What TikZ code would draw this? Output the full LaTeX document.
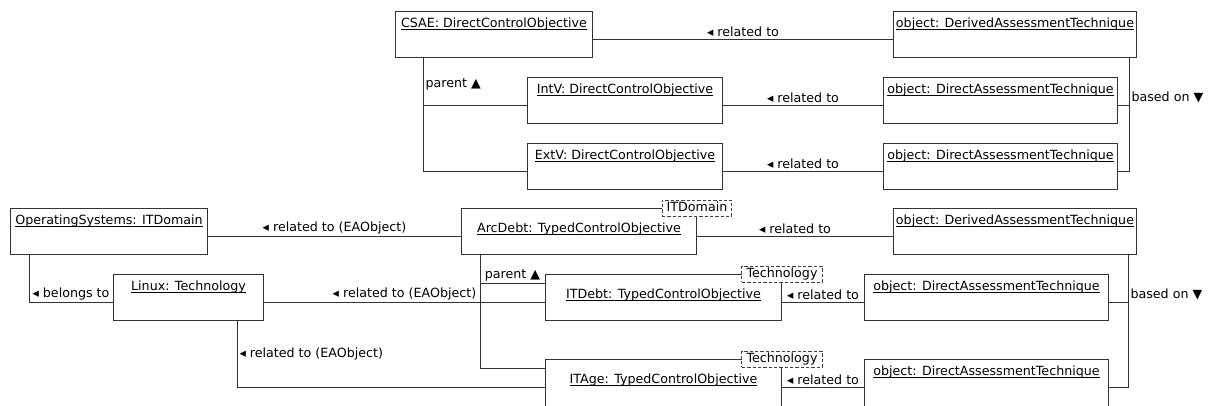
\documentclass[tikz,border=0pt]{standalone}
\usepackage{fontspec}
\setmainfont{DejaVu Sans}
\newcommand\uname[1]{\underline{\smash{#1}}}
\tikzset{
  obj/.style={draw=black!80, line width=0.75pt, anchor=north west, inner sep=0pt,
    minimum width=#1*0.75pt, text height=12pt, text depth=22.5pt},
  typed/.style={obj=#1, text height=18pt, text depth=16.5pt},
  tag/.style={draw=black!75, line width=0.75pt, dash pattern=on 2.5pt off 1.5pt,
    fill=white, inner xsep=3.5pt, inner ysep=1pt, text height=7.5pt, text depth=2.5pt},
  link/.style={draw=black!80, line width=0.75pt},
  lbl/.style={inner sep=1.5pt},
  at28/.style={yshift=-21.4pt},
  at9/.style={yshift=-7pt}
}
\begin{document}
\begin{tikzpicture}[x=0.75pt, y=-0.75pt, font=\fontsize{9.5pt}{11pt}\selectfont]
  \useasboundingbox (0,0) rectangle (1209,405);
  \clip (0,0) rectangle (1209,405);

  \node[obj=197] (csae) at (395,11) {\uname{CSAE: DirectControlObjective}};
  \node[obj=243] (dertop) at (893,11) {\uname{object: DerivedAssessmentTechnique}};
  \node[obj=195] (intv) at (527,77) {\uname{IntV: DirectControlObjective}};
  \node[obj=195] (extv) at (527,143) {\uname{ExtV: DirectControlObjective}};
  \node[obj=234] (dirint) at (883,77) {\uname{object: DirectAssessmentTechnique}};
  \node[obj=234] (dirext) at (883,143) {\uname{object: DirectAssessmentTechnique}};

  \node[obj=197] (os) at (10,208) {\uname{OperatingSystems: ITDomain}};
  \node[obj=150] (linux) at (113,274) {\uname{Linux: Technology}};
  \node[typed=235] (arcdebt) at (461,208) {\uname{ArcDebt: TypedControlObjective}};
  \node[typed=236] (itdebt) at (545,274) {\uname{ITDebt: TypedControlObjective}};
  \node[typed=236, text depth=26pt] (itage) at (545,359) {\uname{ITAge: TypedControlObjective}};
  \node[obj=243] (derbot) at (893,208) {\uname{object: DerivedAssessmentTechnique}};
  \node[obj=244] (dirdebt) at (864,274) {\uname{object: DirectAssessmentTechnique}};
  \node[obj=244, text depth=30pt] (dirage) at (864,359) {\uname{object: DirectAssessmentTechnique}};

  \node[tag] (dom) at (arcdebt.north east) {ITDomain};
  \node[tag] (techdebt) at (itdebt.north east) {Technology};
  \node[tag] (techage) at (itage.north east) {Technology};

  \draw[link] ([at28]csae.north east) -- node[lbl, above] {◂ related to} ([at28]dertop.north west);
  \draw[link] ([at28]intv.north east) -- node[lbl, above] {◂ related to} ([at28]dirint.north west);
  \draw[link] ([at28]extv.north east) -- node[lbl, above] {◂ related to} ([at28]dirext.north west);
  \draw[link] ([xshift=21pt]csae.south west) |- node[lbl, pos=0.28, right] {parent ▲} ([at28]intv.north west);
  \draw[link] ([xshift=21pt]csae.south west) |- ([at28]extv.north west);
  \draw[link] ([xshift=-6pt]dertop.south east) |- node[lbl, pos=0.5, above right] {based on ▼} ([at28]dirint.north east);
  \draw[link] ([xshift=-6pt]dertop.south east) |- ([at28]dirext.north east);

  \draw[link] ([at28]os.north east) -- node[lbl, above] {◂ related to (EAObject)} ([at28]arcdebt.north west);
  \draw[link] ([xshift=14.25pt]os.south west) |- node[lbl, pos=0.75, above] {◂ belongs to} ([at28]linux.north west);
  \draw[link] ([at28]linux.north east) -- node[lbl, above] {◂ related to (EAObject)} ([at28]itdebt.north west);
  \draw[link] ([xshift=-20.25pt]linux.south east) |- node[lbl, pos=0.25, right] {◂ related to (EAObject)} ([at28]itage.north west);
  \draw[link] ([xshift=14.25pt]arcdebt.south west) |- node[lbl, pos=0.75, above] {parent ▲} ([at9]itdebt.north west);
  \draw[link] ([xshift=14.25pt]arcdebt.south west) |- ([at9]itage.north west);
  \draw[link] ([at28]arcdebt.north east) -- node[lbl, above] {◂ related to} ([at28]derbot.north west);
  \draw[link] ([at28]itdebt.north east) -- node[lbl, above] {◂ related to} ([at28]dirdebt.north west);
  \draw[link] ([at28]itage.north east) -- node[lbl, above] {◂ related to} ([at28]dirage.north west);
  \draw[link] ([xshift=-6.75pt]derbot.south east) |- node[lbl, pos=0.5, above right] {based on ▼} ([at28]dirdebt.north east);
  \draw[link] ([xshift=-6.75pt]derbot.south east) |- ([at28]dirage.north east);
\end{tikzpicture}
\end{document}
